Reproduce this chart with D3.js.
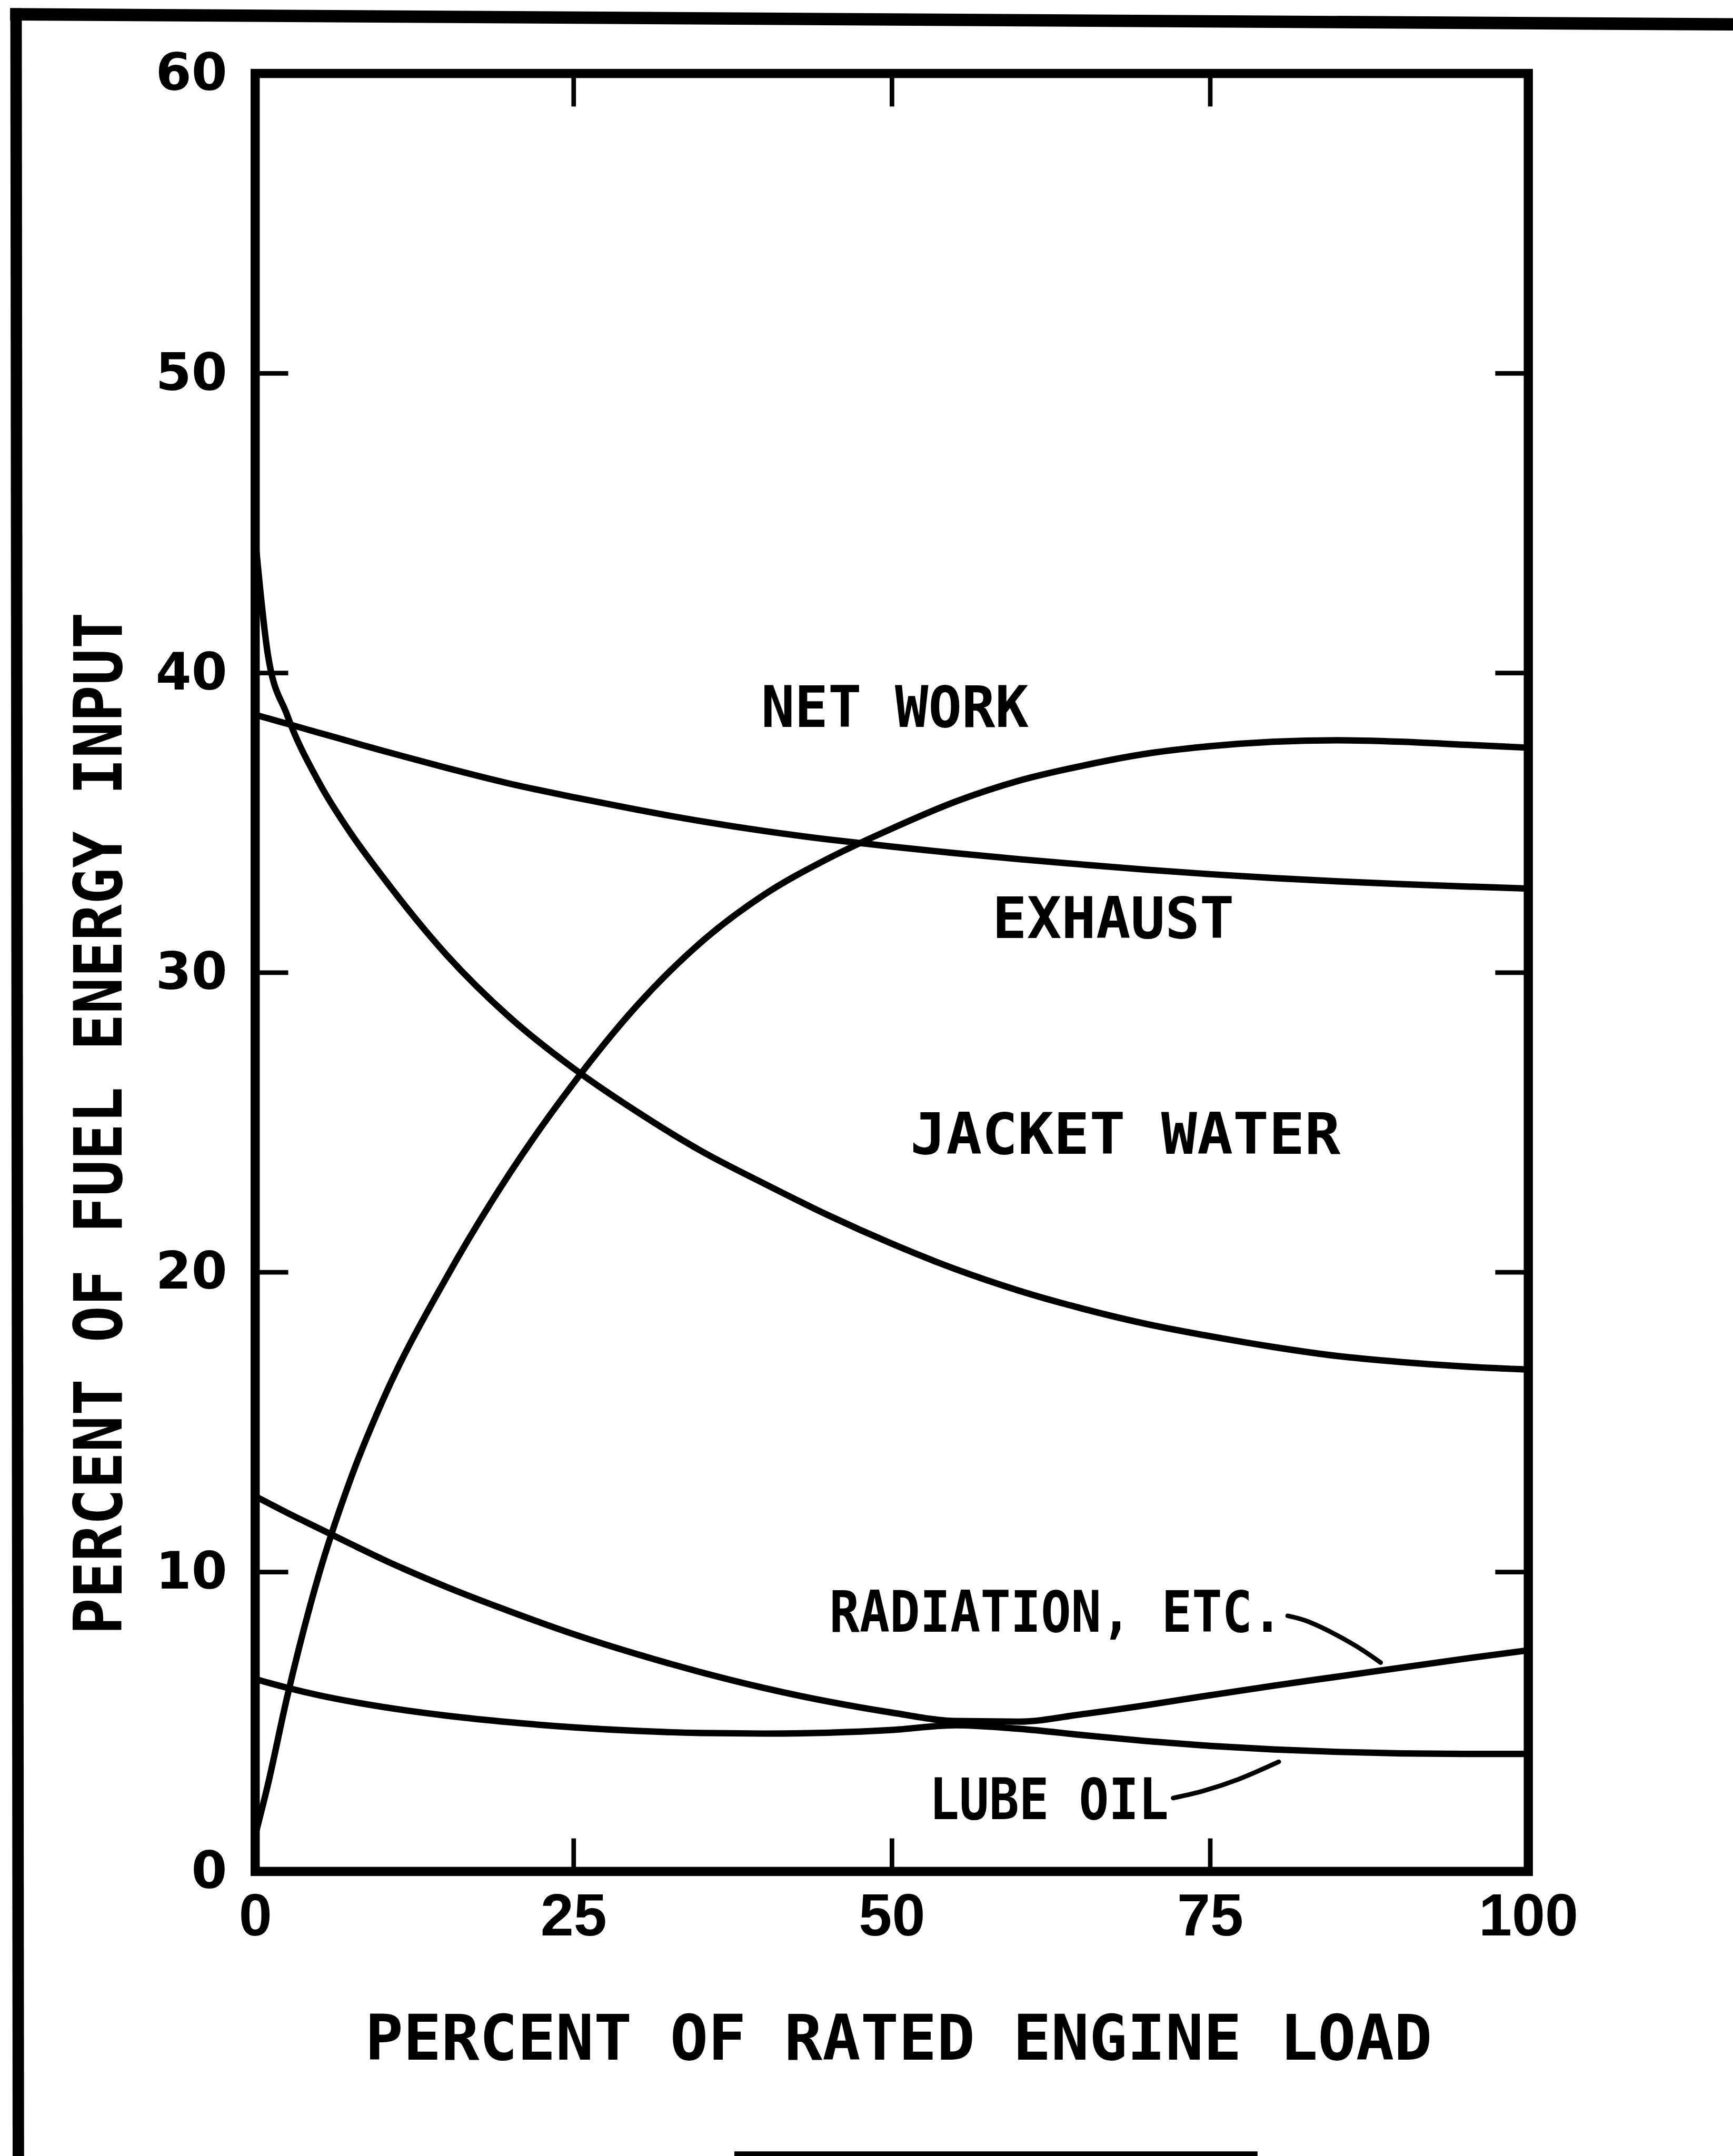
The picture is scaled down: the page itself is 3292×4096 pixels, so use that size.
<!DOCTYPE html>
<html>
<head>
<meta charset="utf-8">
<script src="https://cdn.jsdelivr.net/npm/d3@7"></script>
<style>
  body { margin: 0; background: #fff; }
  svg { display: block; }
</style>
</head>
<body>
<svg id="chart"></svg>
<script>
// values: percent of rated load -> percent of fuel energy input
const load        = [0,    1,    2.5,  5,    7.5,  10,   15,   20,   25,   30,   35,   40,   45,   50,   55,   60,    65,   70,   75,    80,   85,    90,   95,    100];
const netWork     = [1.2,  2.9,  5.8,  9.9,  13.1, 15.7, 19.8, 23.3, 26.3, 28.9, 31.0, 32.6, 33.8, 34.8, 35.7, 36.4,  36.9, 37.3, 37.55, 37.7, 37.75, 37.7, 37.6,  37.5];
const exhaust     = [38.6, 38.48,38.3, 38.0, 37.7, 37.4, 36.83,36.3, 35.85,35.43,35.05,34.72,34.44,34.2, 33.98,33.78, 33.6, 33.43,33.28, 33.15,33.04, 32.95,32.87, 32.8];
const jacketWater = [44.5, 40.6, 38.6, 36.35,34.65,33.2, 30.6, 28.5, 26.8, 25.35,24.05,22.95,21.9, 20.95,20.1, 19.38, 18.78,18.27,17.86, 17.5, 17.2,  17.0, 16.85, 16.75];
const radiation   = [12.52,12.3, 11.97,11.45,10.93,10.42,9.5,  8.68, 7.92, 7.25, 6.65, 6.12, 5.67, 5.3,  5.02, 5.0,   5.25, 5.55, 5.88,  6.2,  6.5,   6.8,  7.1,   7.38];
const lubeOil     = [6.42, 6.3,  6.13, 5.88, 5.67, 5.49, 5.2,  4.98, 4.81, 4.69, 4.62, 4.6,  4.63, 4.72, 4.88, 4.76,  4.55, 4.35, 4.19,  4.07, 3.99,  3.94, 3.92,  3.92];

const xTicks = [0, 25, 50, 75, 100];
const yTicks = [0, 10, 20, 30, 40, 50, 60];

// curve names written inside the plot (data units: centre x, baseline y, text width)
const labelText  = ["NET WORK", "EXHAUST", "JACKET WATER", "RADIATION, ETC.", "LUBE OIL"];
const labelX     = [50.25, 67.4, 68.35, 62.9, 62.35];
const labelY     = [38.2, 31.15, 23.95, 8.0, 1.75];
const labelWidth = [21.0, 19.0, 33.8, 35.6, 18.8];

// hand drawn leaders from the two lower labels to their curves
const radLeaderX  = [81.1, 82.7, 86.2, 88.4];
const radLeaderY  = [8.53, 8.34, 7.59, 6.97];
const lubeLeaderX = [72.1, 74.5, 77.2, 80.4];
const lubeLeaderY = [2.45, 2.69, 3.07, 3.66];

// everything is laid out in the reference's own pixels, the viewBox shrinks it to the window
const W = 3776, H = 4698;
const svg = d3.select("#chart")
    .attr("width", 3292)
    .attr("height", 4096)
    .attr("viewBox", `0 0 ${W} ${H}`);

svg.append("rect").attr("width", W).attr("height", H).attr("fill", "#fff");

const x = d3.scaleLinear().domain([0, 100]).range([556, 3330]);
const y = d3.scaleLinear().domain([0, 60]).range([4078, 160]);

// page border left over from the scan
svg.append("line").attr("x1", 22).attr("y1", 31).attr("x2", W).attr("y2", 53)
    .attr("stroke", "#000").attr("stroke-width", 27);
svg.append("line").attr("x1", 35).attr("y1", 18).attr("x2", 40).attr("y2", H)
    .attr("stroke", "#000").attr("stroke-width", 25);
svg.append("line").attr("x1", 1600).attr("y1", 4693).attr("x2", 2740).attr("y2", 4693)
    .attr("stroke", "#000").attr("stroke-width", 10);

// axes, ticks pointing inwards
function styleAxis(g, font, size) {
    g.select(".domain").remove();
    g.selectAll(".tick line").attr("stroke", "#000").attr("stroke-width", 10);
    g.selectAll(".tick text")
        .attr("fill", "#000")
        .style("font-family", font)
        .style("font-weight", "bold")
        .style("font-size", size + "px");
}

svg.append("g")
    .attr("transform", `translate(0,${y(0)})`)
    .call(d3.axisBottom(x).tickValues(xTicks).tickSizeInner(-72).tickSizeOuter(0).tickPadding(47))
    .call(g => styleAxis(g, "'Liberation Sans', Arial, sans-serif", 130));

svg.append("g")
    .attr("transform", `translate(0,${y(60)})`)
    .call(d3.axisTop(x).tickValues([25, 50, 75]).tickSizeInner(-72).tickSizeOuter(0).tickFormat(""))
    .call(g => styleAxis(g, "sans-serif", 10));

svg.append("g")
    .attr("transform", `translate(${x(0)},0)`)
    .call(d3.axisLeft(y).tickValues(yTicks).tickSizeInner(-72).tickSizeOuter(0).tickPadding(61))
    .call(g => styleAxis(g, "'DejaVu Sans', sans-serif", 112));

svg.append("g")
    .attr("transform", `translate(${x(100)},0)`)
    .call(d3.axisRight(y).tickValues([10, 20, 30, 40, 50]).tickSizeInner(-72).tickSizeOuter(0).tickFormat(""))
    .call(g => styleAxis(g, "sans-serif", 10));

// plot frame
svg.append("rect")
    .attr("x", x(0)).attr("y", y(60))
    .attr("width", x(100) - x(0)).attr("height", y(0) - y(60))
    .attr("fill", "none").attr("stroke", "#000").attr("stroke-width", 20);

// curves
const line = d3.line()
    .x(d => x(d[0]))
    .y(d => y(d[1]))
    .curve(d3.curveMonotoneX);

const series = [netWork, exhaust, jacketWater, radiation, lubeOil];
series.forEach(vals => {
    svg.append("path")
        .attr("d", line(load.map((l, i) => [l, vals[i]])))
        .attr("fill", "none")
        .attr("stroke", "#000")
        .attr("stroke-width", 14)
        .attr("stroke-linejoin", "round")
        .attr("stroke-linecap", "round");
});

// leaders
const leader = d3.line().x(d => x(d[0])).y(d => y(d[1])).curve(d3.curveCatmullRom);
[[radLeaderX, radLeaderY], [lubeLeaderX, lubeLeaderY]].forEach(([lx, ly]) => {
    svg.append("path")
        .attr("d", leader(lx.map((v, i) => [v, ly[i]])))
        .attr("fill", "none")
        .attr("stroke", "#000")
        .attr("stroke-width", 10)
        .attr("stroke-linecap", "round");
});

// curve names
labelText.forEach((t, i) => {
    svg.append("text")
        .attr("x", x(labelX[i]))
        .attr("y", y(labelY[i]))
        .attr("text-anchor", "middle")
        .attr("textLength", x(labelWidth[i]) - x(0))
        .attr("lengthAdjust", "spacingAndGlyphs")
        .style("font-family", "'DejaVu Sans Mono', monospace")
        .style("font-weight", "bold")
        .style("font-size", "124px")
        .text(t);
});

// axis titles
svg.append("text")
    .attr("x", 1958)
    .attr("y", 4488)
    .attr("text-anchor", "middle")
    .attr("textLength", 2325)
    .attr("lengthAdjust", "spacingAndGlyphs")
    .style("font-family", "'DejaVu Sans Mono', monospace")
    .style("font-weight", "bold")
    .style("font-size", "136px")
    .text("PERCENT OF RATED ENGINE LOAD");

svg.append("text")
    .attr("transform", "translate(265,2448) rotate(-90)")
    .attr("text-anchor", "middle")
    .attr("textLength", 2228)
    .attr("lengthAdjust", "spacingAndGlyphs")
    .style("font-family", "'DejaVu Sans Mono', monospace")
    .style("font-weight", "bold")
    .style("font-size", "146px")
    .text("PERCENT OF FUEL ENERGY INPUT");
</script>
</body>
</html>
